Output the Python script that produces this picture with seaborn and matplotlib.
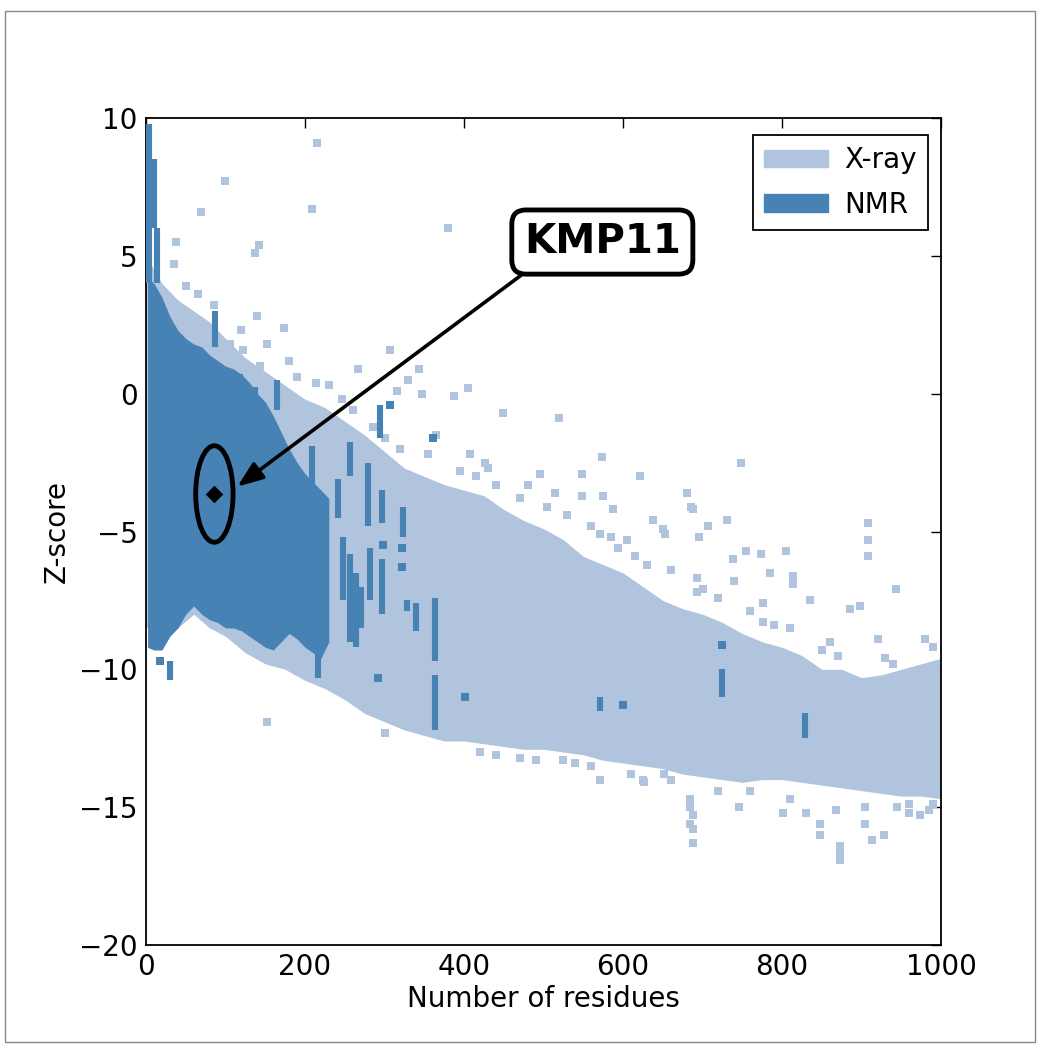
import numpy as np
import pandas as pd
import matplotlib
matplotlib.use("Agg")
import matplotlib.pyplot as plt
from matplotlib.patches import Patch, Ellipse, Rectangle
import seaborn as sns

# ---------------- data ----------------
# X-ray dense cloud envelope
xray_x = [0, 20, 40, 60, 80, 100, 125, 150, 175, 200, 225, 250, 275, 300, 325, 350, 375,
          400, 425, 450, 475, 500, 525, 550, 575, 600, 625, 650, 675, 700, 725, 750, 775,
          800, 825, 850, 875, 900, 925, 950, 975, 1000]
xray_upper = [5.0, 4.0, 3.4, 3.0, 2.6, 2.0, 1.3, 0.8, 0.3, -0.2, -0.5, -1.0, -1.5, -2.1, -2.7,
              -3.0, -3.3, -3.5, -3.7, -4.2, -4.6, -4.9, -5.3, -5.9, -6.2, -6.5, -7.0, -7.5,
              -7.8, -8.0, -8.3, -8.7, -9.0, -9.2, -9.5, -10.0, -10.0, -10.3, -10.2, -10.0,
              -9.8, -9.6]
xray_lower = [-8.5, -8.5, -8.5, -8.0, -8.5, -8.8, -9.4, -9.8, -10.0, -10.4, -10.7, -11.1,
              -11.6, -11.9, -12.2, -12.4, -12.6, -12.6, -12.7, -12.8, -12.9, -12.9, -13.0,
              -13.1, -13.3, -13.4, -13.5, -13.6, -13.8, -13.9, -14.0, -14.1, -14.0, -14.0,
              -14.1, -14.2, -14.3, -14.4, -14.5, -14.6, -14.6, -14.7]

# X-ray scattered points outside the dense cloud
xray_pts_x = [215, 99, 209, 69, 38, 142, 137, 35, 65, 140, 174, 106, 122, 152, 143, 267, 343,
              347, 316, 214, 246, 380, 307, 330, 405, 387, 449, 520, 573, 621, 496, 548, 680,
              548, 575, 588, 686, 638, 653, 571, 594, 408, 426, 748, 681, 688, 731, 707, 650,
              696, 908, 908, 908, 755, 773, 805, 738, 814, 693, 739, 785, 943, 835, 776, 885,
              693, 776, 810, 921, 980, 940, 814, 898, 810, 688, 688, 688, 746, 801, 830, 848,
              848, 873, 873, 873, 913, 928, 974, 945, 626, 651, 684, 810, 868, 571, 625, 684,
              684, 490, 525, 152, 905, 905, 960, 990, 995,
              50, 85, 120, 180, 190, 230, 260, 285, 300, 320, 355, 365, 395, 415, 430, 440,
              470, 480, 505, 515, 530, 560, 585, 605, 615, 630, 660, 700, 720, 760, 790, 850,
              860, 870, 930, 990, 300, 420, 470, 540, 610, 660, 720, 760, 960, 985, 440, 560]
xray_pts_z = [9.1, 7.7, 6.7, 6.6, 5.5, 5.4, 5.1, 4.7, 3.6, 2.8, 2.4, 1.8, 1.6, 1.8, 1.0, 0.9,
              0.9, 0.0, 0.1, 0.4, -0.2, 6.0, 1.6, 0.5, 0.2, -0.1, -0.7, -0.9, -2.3, -3.0, -2.9,
              -2.9, -3.6, -3.7, -3.7, -4.2, -4.1, -4.6, -5.1, -5.1, -5.6, -2.2, -2.5, -2.5, -3.6,
              -4.2, -4.6, -4.8, -4.9, -5.2, -4.7, -5.3, -5.9, -5.7, -5.8, -5.7, -6.0, -6.9, -6.7,
              -6.8, -6.5, -7.1, -7.5, -7.6, -7.8, -7.2, -8.3, -8.5, -8.9, -8.9, -9.8, -6.6, -7.7,
              -8.5, -15.3, -15.8, -16.3, -15.0, -15.2, -15.2, -15.6, -16.0, -16.4, -16.7, -16.9,
              -16.2, -16.0, -15.3, -15.0, -14.1, -13.8, -14.7, -14.7, -15.1, -14.0, -14.0, -15.0,
              -15.6, -13.3, -13.3, -11.9, -15.0, -15.6, -15.2, -14.9, -13.8,
              3.9, 3.2, 2.3, 1.2, 0.6, 0.3, -0.6, -1.2, -1.6, -2.0, -2.2, -1.5, -2.8, -3.0,
              -2.7, -3.3, -3.8, -3.3, -4.1, -3.6, -4.4, -4.8, -5.2, -5.3, -5.9, -6.2, -6.4,
              -7.1, -7.4, -7.9, -8.4, -9.3, -9.0, -9.5, -9.6, -9.2, -12.3, -13.0, -13.2,
              -13.4, -13.8, -14.0, -14.4, -14.4, -14.9, -15.1, -13.1, -13.5]

# NMR dense cloud envelope
nmr_x = [2, 10, 20, 30, 40, 50, 60, 70, 80, 90, 100, 110, 120, 130, 140, 150, 160, 170, 180,
         190, 200, 210, 220, 230]
nmr_upper = [4.2, 4.0, 3.5, 2.8, 2.3, 2.0, 1.8, 1.7, 1.4, 1.2, 1.0, 0.9, 0.7, 0.4, 0.0, -0.3,
             -0.8, -1.4, -2.0, -2.5, -2.9, -3.2, -3.5, -3.8]
nmr_lower = [-9.2, -9.3, -9.3, -8.8, -8.5, -8.0, -7.7, -8.0, -8.2, -8.3, -8.5, -8.5, -8.6,
             -8.8, -9.0, -9.2, -9.3, -9.0, -8.7, -8.9, -9.2, -9.4, -9.6, -9.0]

# NMR vertical streaks: residue count, top and bottom Z-score
streak_x = [4, 10, 14, 87, 118, 137, 165, 294, 257, 209, 242, 279, 297, 323, 297, 282, 248,
            256, 264, 270, 328, 340, 364, 364, 30, 216, 571, 724, 829]
streak_top = [9.8, 8.5, 6.0, 3.0, 0.7, 0.25, 0.5, -0.4, -1.75, -1.9, -3.1, -2.5, -3.5, -4.1,
              -6.0, -5.6, -5.2, -5.8, -6.5, -7.0, -7.5, -7.6, -7.4, -10.2, -9.7, -8.1, -11.0,
              -10.0, -11.6]
streak_bottom = [4.0, 6.0, 4.0, 1.7, -0.6, -0.6, -0.6, -1.6, -3.0, -3.4, -4.5, -4.8, -4.7,
                 -5.2, -8.0, -7.5, -7.5, -9.0, -9.2, -8.5, -7.9, -8.6, -9.7, -12.2, -10.4,
                 -10.3, -11.5, -11.0, -12.5]

# NMR isolated points
nmr_pts_x = [307, 361, 322, 322, 298, 292, 401, 18, 600, 724]
nmr_pts_z = [-0.4, -1.6, -5.6, -6.3, -5.5, -10.3, -11.0, -9.7, -11.3, -9.1]

# highlighted protein
kmp_x = [86]
kmp_z = [-3.64]
kmp_label = "KMP11"

x_ticks = [0, 200, 400, 600, 800, 1000]
y_ticks = [-20, -15, -10, -5, 0, 5, 10]
series_names = ["X-ray", "NMR"]

# ---------------- style ----------------
sns.set_theme(style="white")
plt.rcParams["font.family"] = ["DejaVu Sans"]
for k in ["text.color", "axes.labelcolor", "xtick.color", "ytick.color"]:
    plt.rcParams[k] = "black"
LIGHT = "#b0c4de"
DARK = "#4682b4"
FS = 20

W, H = 1038, 1045
fig = plt.figure(figsize=(W / 100, H / 100), dpi=100)
ax = fig.add_axes([146 / W, 1 - 945 / H, (941 - 146) / W, (945 - 118) / H])

# X-ray cloud
ax.fill_between(xray_x, xray_lower, xray_upper, color=LIGHT, lw=0, zorder=1)
xray_df = pd.DataFrame({"n": xray_pts_x, "z": xray_pts_z})
sns.scatterplot(data=xray_df, x="n", y="z", marker="s", s=30, color=LIGHT, linewidth=0,
                ax=ax, zorder=2)

# NMR cloud
ax.fill_between(nmr_x, nmr_lower, nmr_upper, color=DARK, lw=0, zorder=3)
ax.vlines(streak_x, streak_bottom, streak_top, colors=DARK, lw=4.4, zorder=4)
nmr_df = pd.DataFrame({"n": nmr_pts_x, "z": nmr_pts_z})
sns.scatterplot(data=nmr_df, x="n", y="z", marker="s", s=30, color=DARK, linewidth=0,
                ax=ax, zorder=4)

# KMP11 marker, ellipse, arrow, label
kmp_df = pd.DataFrame({"n": kmp_x, "z": kmp_z})
sns.scatterplot(data=kmp_df, x="n", y="z", marker="D", s=80, color="black", linewidth=0,
                ax=ax, zorder=6)
ax.add_patch(Ellipse((kmp_x[0], kmp_z[0]), width=47, height=3.5, fill=False,
                     edgecolor="black", lw=3.5, zorder=6))
ax.annotate("", xy=(kmp_x[0] + 29, kmp_z[0] + 0.27), xytext=(472, 4.3),
            arrowprops=dict(arrowstyle="-|>,head_length=1.3,head_width=0.5",
                            color="black", lw=2.6, shrinkA=0, shrinkB=0), zorder=7)
ax.text(574, 5.5, kmp_label, fontsize=29, fontweight="bold", ha="center", va="center",
        color="black", zorder=8,
        bbox=dict(boxstyle="round,pad=0.3,rounding_size=0.35", facecolor="white",
                  edgecolor="black", lw=3.5))

# axes
ax.set_xlim(0, 1000)
ax.set_ylim(-20, 10)
ax.set_xticks(x_ticks)
ax.set_yticks(y_ticks)
ax.tick_params(direction="in", length=7, width=1, top=True, right=True,
               labelsize=FS, colors="black", pad=6)
for sp in ax.spines.values():
    sp.set_color("black")
    sp.set_linewidth(1.3)
ax.set_xlabel("Number of residues", fontsize=FS, labelpad=3, color="black")
ax.set_ylabel("Z-score", fontsize=FS, labelpad=6, color="black")

handles = [Patch(facecolor=LIGHT, edgecolor=LIGHT, label=series_names[0]),
           Patch(facecolor=DARK, edgecolor=DARK, label=series_names[1])]
leg = ax.legend(handles=handles, loc="upper right", fontsize=FS, frameon=True,
                bbox_to_anchor=(928 / W, 1 - 135 / H), bbox_transform=fig.transFigure,
                fancybox=False, edgecolor="black", framealpha=1, handlelength=2.3,
                handleheight=0.6, borderaxespad=0, labelspacing=0.6,
                handletextpad=0.6, borderpad=0.4)
leg.get_frame().set_linewidth(1.3)
for t in leg.get_texts():
    t.set_color("black")

# thin frame around the whole figure
fig.patches.append(Rectangle((5 / W, 3 / H), 1 - 8 / W, 1 - 14 / H,
                             transform=fig.transFigure, fill=False,
                             edgecolor="#888888", lw=1))

fig.savefig("out.png", dpi=100)
